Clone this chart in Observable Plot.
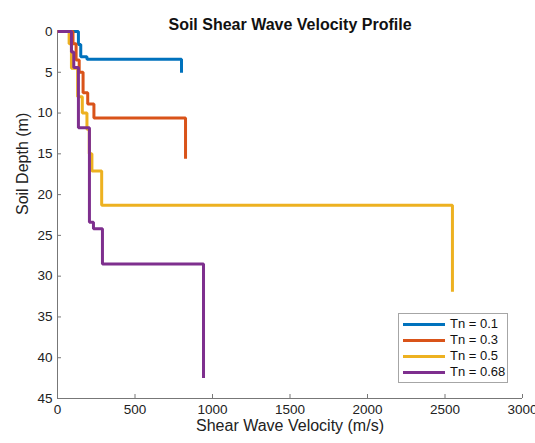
<!DOCTYPE html>
<html><head><meta charset="utf-8">
<script src="https://cdn.jsdelivr.net/npm/d3@7"></script>
<script src="https://cdn.jsdelivr.net/npm/@observablehq/plot@0.6"></script>
<style>
body{margin:0;background:#fff;font-family:"Liberation Sans",Arial,sans-serif;}
#wrap{position:relative;width:535px;height:443px;}
.legend{position:absolute;left:398px;top:313px;width:110px;height:70px;border:1px solid #a6a6a6;background:#fff;font-size:13px;color:#111;box-sizing:border-box;padding-top:2px;}
.row{display:flex;align-items:center;height:16px;line-height:16px;}
.sw{display:inline-block;width:42px;height:3px;margin-left:4px;margin-right:5px;}
</style></head><body><div id="wrap"></div>
<script>
const series = ["Tn = 0.1", "Tn = 0.3", "Tn = 0.5", "Tn = 0.68"];
const colors = ["#0072BD", "#D95319", "#EDB120", "#7E2F8E"];

// layer boundaries (m) and velocities (m/s) for each profile
const depth01 = [0, 1.6, 3.1, 3.4, 5.05];
const vel01   = [135, 150, 190, 800];
const depth03 = [0, 1.5, 3.5, 5, 7.5, 8.9, 10.6, 15.6];
const vel03   = [100, 120, 140, 165, 195, 235, 826];
const depth05 = [0, 1.5, 4.5, 8, 10, 12, 15, 17.1, 21.3, 31.9];
const vel05   = [75, 90, 130, 160, 190, 205, 222, 285, 2548];
const depth068 = [0, 2.5, 4.4, 11.8, 23.4, 24.2, 28.5, 42.5];
const vel068   = [90, 105, 135, 206, 232, 290, 942];

const xTicks = [0, 500, 1000, 1500, 2000, 2500, 3000];
const yTicks = [0, 5, 10, 15, 20, 25, 30, 35, 40, 45];

function steps(name, depths, vels) {
  const pts = [{s: name, v: 0, d: depths[0]}];
  vels.forEach((v, i) => {
    pts.push({s: name, v, d: depths[i]});
    pts.push({s: name, v, d: depths[i + 1]});
  });
  return pts;
}
const rows = [
  ...steps(series[0], depth01, vel01),
  ...steps(series[1], depth03, vel03),
  ...steps(series[2], depth05, vel05),
  ...steps(series[3], depth068, vel068)
];

const chart = Plot.plot({
  width: 535, height: 443,
  marginLeft: 57, marginRight: 13, marginTop: 31, marginBottom: 45,
  style: {fontFamily: '"Liberation Sans", Arial, sans-serif', fontSize: "13.5px", color: "#222", background: "#fff", overflow: "visible"},
  x: {domain: [0, 3000]},
  y: {domain: [0, 45], reverse: true},
  color: {domain: series, range: colors},
  marks: [
    Plot.ruleY([45], {stroke: "#777", strokeWidth: 1}),
    Plot.ruleX([0], {stroke: "#777", strokeWidth: 1}),
    Plot.axisX({ticks: xTicks, tickFormat: d => String(d), tickSize: -4, tickPadding: 10, stroke: "#777", label: null, fontSize: 13.5}),
    Plot.axisY({ticks: yTicks, tickFormat: d => String(d), tickSize: -4, tickPadding: 9, stroke: "#777", label: null, fontSize: 13.5}),
    Plot.line(rows, {x: "v", y: "d", z: "s", stroke: "s", strokeWidth: 3, strokeLinejoin: "miter", strokeLinecap: "butt"}),
    Plot.text(["Shear Wave Velocity (m/s)"], {frameAnchor: "bottom", dy: 32, text: d => d, fontSize: 16, fill: "#222"}),
    Plot.text(["Soil Depth (m)"], {frameAnchor: "left", dx: -35, rotate: -90, text: d => d, fontSize: 16, fill: "#222"}),
    Plot.text(["Soil Shear Wave Velocity Profile"], {frameAnchor: "top", dy: -13, text: d => d, fontSize: 16, fontWeight: "bold", fill: "#111"})
  ]
});
const wrap = document.getElementById("wrap");
wrap.appendChild(chart);

const legend = document.createElement("div");
legend.className = "legend";
series.forEach((s, i) => {
  const r = document.createElement("div");
  r.className = "row";
  const sw = document.createElement("span");
  sw.className = "sw";
  sw.style.background = colors[i];
  r.appendChild(sw);
  r.appendChild(document.createTextNode(s));
  legend.appendChild(r);
});
wrap.appendChild(legend);
</script></body></html>
